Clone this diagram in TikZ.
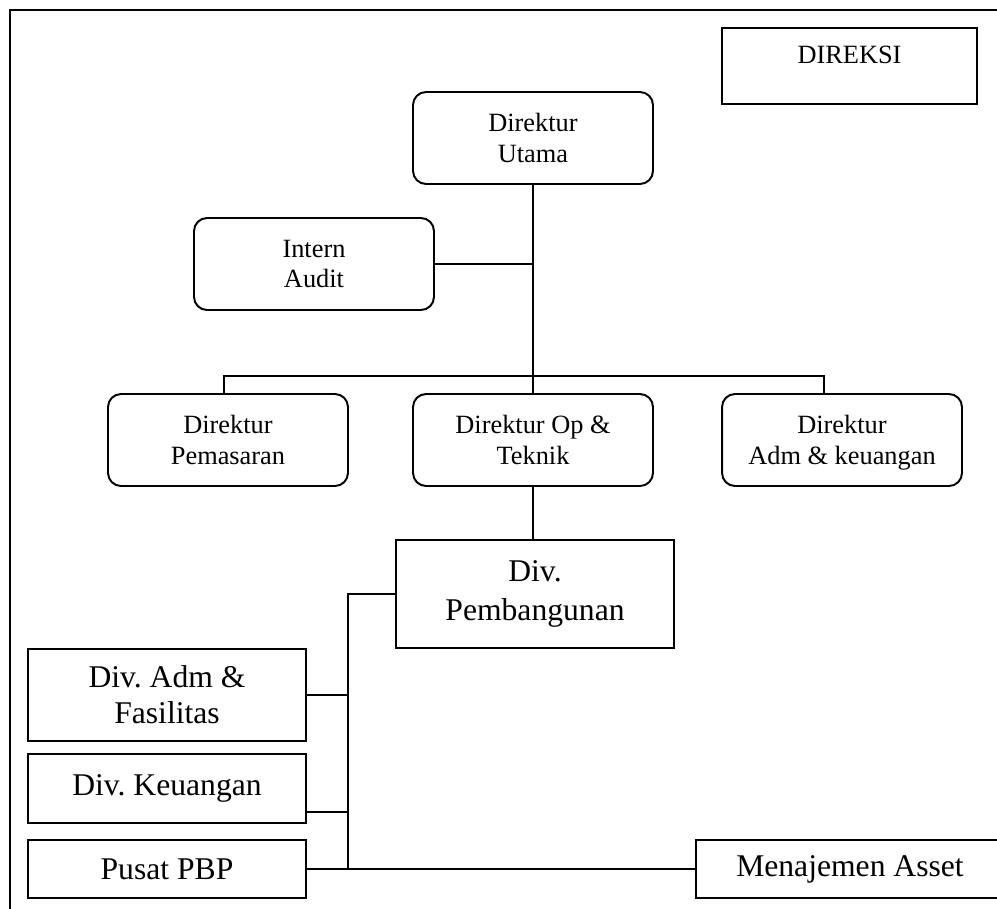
\documentclass[tikz,border=0pt]{standalone}
\usepackage{fontspec}
\setmainfont{Liberation Serif}
\usepackage{tikz}
\usetikzlibrary{positioning}
\frenchspacing

\begin{document}
\begin{tikzpicture}[-,semithick,x=0.02cm,y=-0.02cm]
                \tikzstyle{rbox}=[draw=black,line width=1.1pt,rounded corners=0.26cm,minimum width=4.8cm,minimum height=1.84cm,inner sep=0pt,align=center,font=\fontsize{15}{17.6}\selectfont]
                \tikzstyle{sbox}=[draw=black,line width=1.1pt,minimum width=5.56cm,inner sep=0pt,align=center,font=\fontsize{18}{20.5}\selectfont]
                \tikzstyle{link}=[line width=0.9pt]

                \useasboundingbox (0,0) rectangle (997,909);
                \draw[line width=1.3pt] (10,10) rectangle (1015,925);

                \node[draw=black,line width=1.1pt,minimum width=5.1cm,inner xsep=0pt,inner ysep=0pt,text height=0.706cm,text depth=0.82cm,font=\fontsize{15}{17.6}\selectfont] (direksi) at (849.5,66) {DIREKSI};

                \node[rbox]   (utama)       at (533,138)   {Direktur\\Utama};
                \node[rbox]   (audit)       at (314,264)   {Intern\\Audit};
                \node[rbox]   (pemasaran)   at (228,440)   {Direktur\\Pemasaran};
                \node[rbox]   (opteknik)    at (533,440)   {Direktur Op \&\\Teknik};
                \node[rbox]   (admkeu)      at (842,440)   {Direktur\\\smash{Adm \& keuangan}};

                \node[sbox, minimum height=2.16cm]   (pembangunan) at (535,594)   {Div.\\[2pt]Pembangunan};
                \node[sbox, minimum height=1.84cm]   (admfas)      at (167,695)   {Div. Adm \&\\Fasilitas};
                \node[sbox, minimum height=1.38cm]   (keuangan)    at (167,788.5) {Div. Keuangan};
                \node[sbox, minimum height=1.16cm]   (pbp)         at (167,869)   {Pusat PBP};
                \node[sbox, minimum height=1.16cm, minimum width=6.16cm] (asset) at (850,869) {Menajemen Asset};

                \coordinate (barL) at (224,376);
                \coordinate (barR) at (824,376);
                \coordinate (spineTop) at (348,594);

                \draw[link] (utama.south) -- (opteknik.north);
                \draw[link] (audit.east) -- (audit.east -| utama.south);
                \draw[link] (barL |- pemasaran.north) -- (barL) -- (barR) -- (barR |- admkeu.north);
                \draw[link] (opteknik.south) -- (opteknik.south |- pembangunan.north);
                \draw[link] (pembangunan.west) -- (spineTop) -- (spineTop |- pbp.east);
                \draw[link] (admfas.east) -- (spineTop |- admfas.east);
                \draw[link] ([yshift=0.24cm]keuangan.south east) -- ++(42,0);
                \draw[link] (pbp.east) -- (asset.west);
            \end{tikzpicture}
\end{document}
